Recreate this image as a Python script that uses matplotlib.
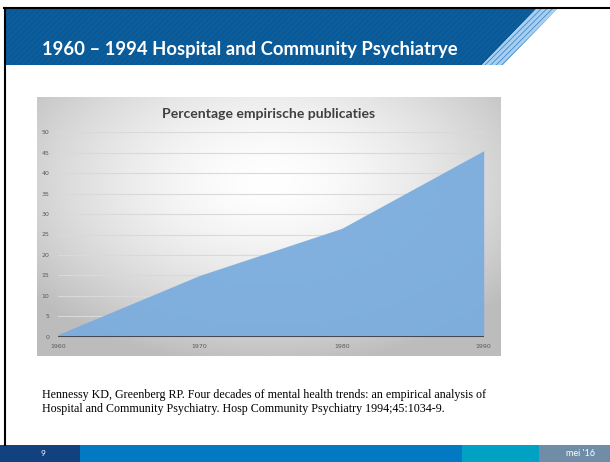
import numpy as np
import matplotlib
matplotlib.use('Agg')
import matplotlib.pyplot as plt
from matplotlib.patches import Polygon, Rectangle

years = [1960, 1970, 1980, 1990]
pct = [0.5, 15, 26.5, 45.5]
y_ticks = [0, 5, 10, 15, 20, 25, 30, 35, 40, 45, 50]

title = '1960 – 1994 Hospital and Community Psychiatrye'
chart_title = 'Percentage empirische publicaties'
citation = ('Hennessy KD, Greenberg RP. Four decades of mental health trends: an empirical analysis of\n'
            'Hospital and Community Psychiatry. Hosp Community Psychiatry 1994;45:1034-9.')

W, H = 610, 462
fig = plt.figure(figsize=(W / 100, H / 100), dpi=100)
fig.patch.set_facecolor('white')

# slide layer in pixel coordinates
slide = fig.add_axes([0, 0, 1, 1])
slide.set_xlim(0, W)
slide.set_ylim(H, 0)
slide.axis('off')

plt.rcParams['hatch.linewidth'] = 0.6
# header band
slide.add_patch(Polygon([(4, 9), (536, 9), (482, 65), (4, 65)], closed=True,
                        facecolor='#0b5d9c', edgecolor='#0a5590', hatch='//////', lw=0))
slide.add_patch(Polygon([(536, 9), (557, 9), (503, 65), (482, 65)], closed=True,
                        facecolor='#a9cff0', edgecolor='#3d8ad0', hatch='//////', lw=0))
slide.plot([4, 610], [8, 8], color='black', lw=1.5)
slide.plot([4.5, 4.5], [8, 445], color='black', lw=1.5)
slide.text(42, 49, title, color='white', fontsize=13.3, fontweight='bold',
           family='Lato', va='center', ha='left')

# footer
slide.add_patch(Rectangle((0, 445), 80, 17, facecolor='#11427f', lw=0))
slide.add_patch(Rectangle((80, 445), 382, 17, facecolor='#0279c2', lw=0))
slide.add_patch(Rectangle((462, 445), 77, 17, facecolor='#00a1c2', lw=0))
slide.add_patch(Rectangle((539, 445), 71, 17, facecolor='#6f8da7', lw=0))
slide.text(43, 454, '9', color='white', fontsize=6, family='Lato', ha='center', va='center')
slide.text(581, 454, "mei '16", color='white', fontsize=6.5, family='Lato', ha='center', va='center')

slide.text(42, 402, citation, fontsize=8.65, family='Liberation Serif', color='black',
           ha='left', va='center', linespacing=1.18)

# chart background with gradient
bg = fig.add_axes([37 / W, (H - 356) / H, 464 / W, 259 / H])
gx, gy = np.meshgrid(np.linspace(-1, 1, 300), np.linspace(-1, 1, 200))
r = np.sqrt((gx / 1.0) ** 2 + ((gy + 0.35) / 1.1) ** 2)
shade = 1 - 0.26 * np.clip(r, 0, 1.3) ** 1.6 / 1.3 ** 1.6
bg.imshow(np.dstack([shade] * 3), extent=[0, 1, 0, 1], origin='upper', aspect='auto')
bg.axis('off')
bg.text(0.5, 0.935, chart_title, transform=bg.transAxes, fontsize=10.1, fontweight='bold',
        family='Lato', color='#404040', ha='center', va='center')

# plot area
ax = fig.add_axes([57.7 / W, (H - 336.7) / H, 426 / W, 204.4 / H])
ax.patch.set_alpha(0)
ax.set_xlim(1960, 1990)
ax.set_ylim(0, 50)
ax.set_yticks(y_ticks)
ax.set_xticks(years)
ax.grid(axis='y', color='#d9d9d9', lw=0.8)
ax.set_axisbelow(True)
ax.fill_between(years, pct, 0, color='#7badde', alpha=0.95, lw=0, zorder=2)
ax.axhline(0, color='#3f3f3f', lw=2, zorder=3)
for s in ax.spines.values():
    s.set_visible(False)
ax.tick_params(length=0, labelsize=4.5, labelcolor='#595959', pad=5)
ax.tick_params(axis='y', pad=6)

fig.savefig('out.png', dpi=100)
